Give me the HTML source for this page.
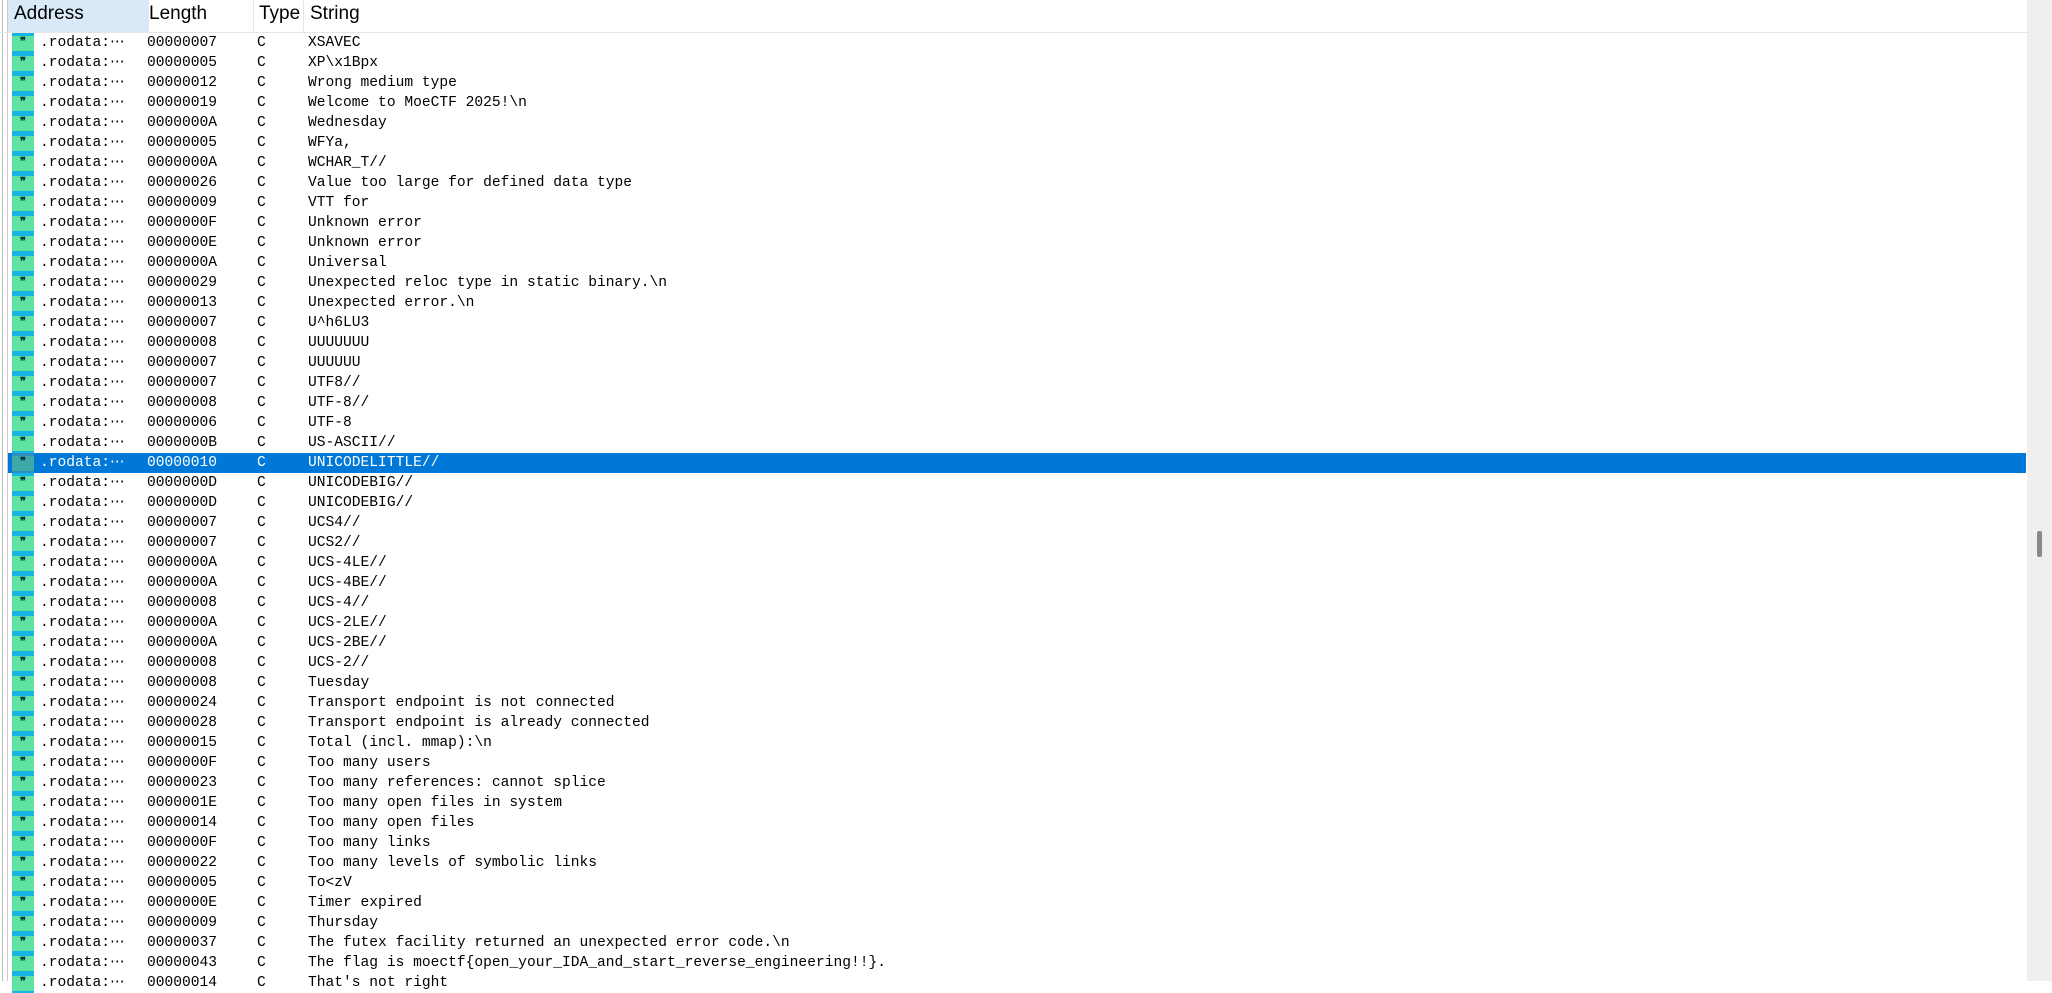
<!DOCTYPE html>
<html><head><meta charset="utf-8"><style>
body{margin:0;width:2052px;height:981px;overflow:hidden;background:#fff;position:relative;font-family:"Liberation Mono",monospace;}
.hdr{position:absolute;top:0;left:0;width:2027px;height:32px;border-bottom:1px solid #e5e5e5;font-family:"Liberation Sans",sans-serif;font-size:19px;color:#000}
.hdr div{position:absolute;top:0;height:32px;line-height:28px}
.sep{position:absolute;top:0;width:1px;height:32px;background:#e5e5e5}
.row{position:absolute;left:8px;width:2018px;height:20px;font-size:14.6px;line-height:20px;color:#000}
.row span{position:absolute;top:0;white-space:pre}
.ic{position:absolute;left:4px;top:0;width:22px;height:20px;background:#5ee3a0;border-top:3px solid #17b4e6;border-bottom:2px solid #17b4e6;box-sizing:border-box;font-size:11px;line-height:14px;text-align:center;font-weight:bold;color:#034}
.sel{background:#0078d7;color:#fff}
.sel .ic{background:#3fa9a8;border-color:#2c8fbf}
</style></head><body>
<div style="position:absolute;left:2px;top:0;width:1px;height:981px;background:#bbb"></div>
<div style="position:absolute;left:7px;top:0;width:1px;height:981px;background:#ccc"></div>
<div class="hdr">
<div style="left:8px;width:135px;background:#d9e9f8;padding-left:6px">Address</div>
<div style="left:149px">Length</div>
<div style="left:259px">Type</div>
<div style="left:310px">String</div>
<span class="sep" style="left:143px"></span><span class="sep" style="left:253px"></span><span class="sep" style="left:303px"></span>
</div>
<div id="rows"></div>
<div style="position:absolute;left:2027px;top:0;width:25px;height:981px;background:#efefef"></div>
<div style="position:absolute;left:2037px;top:531px;width:5px;height:26px;background:#8a8a8a;border-radius:2px"></div>
<script>
var d=[["00000007","XSAVEC"],["00000005","XP\\x1Bpx"],["00000012","Wrong medium type"],["00000019","Welcome to MoeCTF 2025!\\n"],["0000000A","Wednesday"],["00000005","WFYa,"],["0000000A","WCHAR_T//"],["00000026","Value too large for defined data type"],["00000009","VTT for"],["0000000F","Unknown error "],["0000000E","Unknown error"],["0000000A","Universal"],["00000029","Unexpected reloc type in static binary.\\n"],["00000013","Unexpected error.\\n"],["00000007","U^h6LU3"],["00000008","UUUUUUU"],["00000007","UUUUUU"],["00000007","UTF8//"],["00000008","UTF-8//"],["00000006","UTF-8"],["0000000B","US-ASCII//"],["00000010","UNICODELITTLE//"],["0000000D","UNICODEBIG//"],["0000000D","UNICODEBIG//"],["00000007","UCS4//"],["00000007","UCS2//"],["0000000A","UCS-4LE//"],["0000000A","UCS-4BE//"],["00000008","UCS-4//"],["0000000A","UCS-2LE//"],["0000000A","UCS-2BE//"],["00000008","UCS-2//"],["00000008","Tuesday"],["00000024","Transport endpoint is not connected"],["00000028","Transport endpoint is already connected"],["00000015","Total (incl. mmap):\\n"],["0000000F","Too many users"],["00000023","Too many references: cannot splice"],["0000001E","Too many open files in system"],["00000014","Too many open files"],["0000000F","Too many links"],["00000022","Too many levels of symbolic links"],["00000005","To<zV"],["0000000E","Timer expired"],["00000009","Thursday"],["00000037","The futex facility returned an unexpected error code.\\n"],["00000043","The flag is moectf{open_your_IDA_and_start_reverse_engineering!!}."],["00000014","That's not right"]];
var h="";
d.forEach(function(r,i){
var esc=function(s){return s.replace(/&/g,"&amp;").replace(/</g,"&lt;")};
h+='<div class="row'+(i==21?' sel':'')+'" style="top:'+(33+i*20)+'px"><div class="ic">&#10078;</div><span style="left:32px">.rodata:\u22ef</span><span style="left:139px">'+r[0]+'</span><span style="left:249px">C</span><span style="left:300px">'+esc(r[1])+'</span></div>';
});
document.getElementById("rows").innerHTML=h;
</script>
</body></html>
